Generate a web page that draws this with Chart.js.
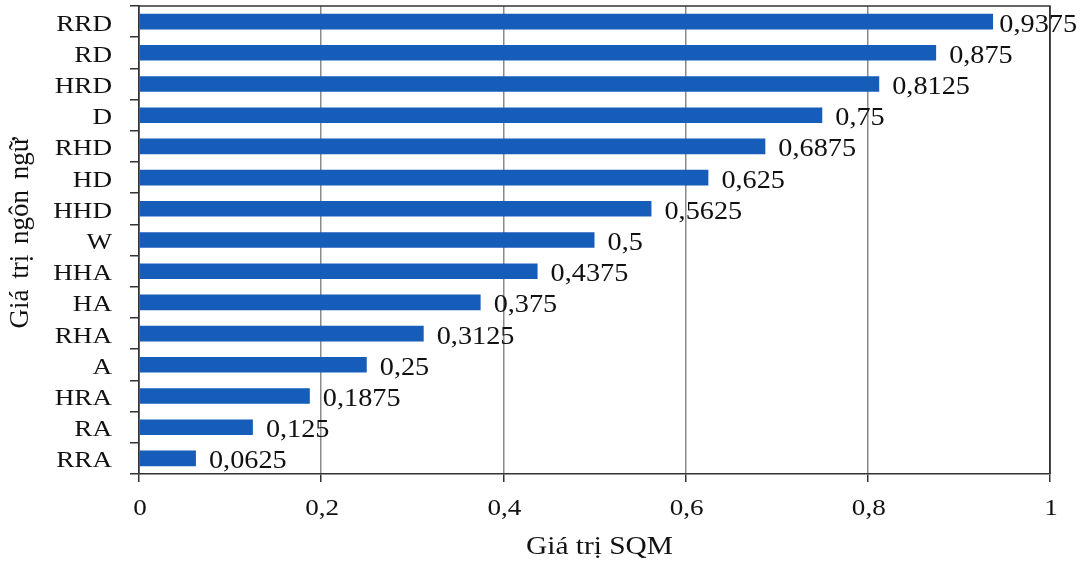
<!DOCTYPE html>
<html>
<head>
<meta charset="utf-8">
<script src="https://cdn.jsdelivr.net/npm/chart.js@4/dist/chart.umd.min.js"></script>
<style>
  html, body { margin: 0; padding: 0; background: #fff; }
  #wrap { width: 1083px; height: 562px; position: relative; }
</style>
</head>
<body>
<div id="wrap"><canvas id="c" width="1083" height="562"></canvas></div>
<script>
// Linguistic values and their SQM values
const categories = ['RRD', 'RD', 'HRD', 'D', 'RHD', 'HD', 'HHD', 'W', 'HHA', 'HA', 'RHA', 'A', 'HRA', 'RA', 'RRA'];
const sqmValues = [0.9375, 0.875, 0.8125, 0.75, 0.6875, 0.625, 0.5625, 0.5, 0.4375, 0.375, 0.3125, 0.25, 0.1875, 0.125, 0.0625];
const xTicks = [0, 0.2, 0.4, 0.6, 0.8, 1];
const xTitle = 'Giá trị SQM';
const yTitle = 'Giá trị ngôn ngữ';

const FONT = "'Liberation Serif', 'Times New Roman', serif";
const TEXT = '#111';
const WIDE = 1.13; // slightly widened serif lettering
const fmt = v => String(v).replace('.', ',');

// Text helper: optional rotation, horizontal widening and word spacing
function drawText(ctx, text, x, y, size, align, opts = {}) {
  ctx.save();
  ctx.font = size + 'px ' + FONT;
  ctx.fillStyle = TEXT;
  ctx.textBaseline = 'alphabetic';
  ctx.textAlign = align;
  if (opts.wordSpacing) ctx.wordSpacing = opts.wordSpacing;
  ctx.translate(x, y);
  if (opts.rotate) ctx.rotate(opts.rotate);
  ctx.scale(opts.sx || 1, opts.sy || 1);
  ctx.fillText(text, 0, 0);
  ctx.restore();
}

const textLayer = {
  id: 'textLayer',
  beforeDatasetsDraw(chart) {
    // top and right sides of the plot frame
    const { ctx, chartArea: a } = chart;
    ctx.save();
    ctx.strokeStyle = '#333';
    ctx.lineWidth = 1.5;
    ctx.beginPath();
    ctx.moveTo(a.left, a.top);
    ctx.lineTo(a.right, a.top);
    ctx.lineTo(a.right, a.bottom);
    ctx.stroke();
    ctx.restore();
  },
  afterDraw(chart) {
    const { ctx, chartArea: a, scales: { x, y } } = chart;
    const meta = chart.getDatasetMeta(0);

    // category labels
    categories.forEach((c, i) => {
      drawText(ctx, c, a.left - 27, y.getPixelForValue(i) + 9, 24, 'right', { sx: WIDE });
    });

    // value tick labels
    xTicks.forEach(v => {
      drawText(ctx, fmt(v), x.getPixelForValue(v) + 1, a.bottom + 41, 24, 'center', { sx: WIDE });
    });

    // bar value labels, kept inside the canvas
    ctx.save();
    ctx.font = '25px ' + FONT;
    meta.data.forEach((bar, i) => {
      const t = fmt(sqmValues[i]);
      const w = ctx.measureText(t).width * WIDE;
      const lx = Math.min(bar.x + 13, chart.width - 6 - w);
      drawText(ctx, t, lx, bar.y + 10, 25, 'left', { sx: WIDE });
    });
    ctx.restore();

    // axis titles
    drawText(ctx, xTitle, (a.left + a.right) / 2 + 5, 554, 26, 'center', { sx: WIDE });
    drawText(ctx, yTitle, 28, (a.top + a.bottom) / 2 - 7, 27, 'center',
      { rotate: -Math.PI / 2, wordSpacing: '4px' });
  }
};

new Chart(document.getElementById('c'), {
  type: 'bar',
  data: {
    labels: categories,
    datasets: [{
      data: sqmValues,
      backgroundColor: '#165DBA',
      borderWidth: 0,
      barPercentage: 0.5,
      categoryPercentage: 1.0
    }]
  },
  options: {
    indexAxis: 'y',
    responsive: false,
    animation: false,
    devicePixelRatio: 1,
    layout: { padding: { top: 6, right: 33, left: 0, bottom: 0 } },
    plugins: { legend: { display: false }, tooltip: { enabled: false } },
    scales: {
      x: {
        min: 0, max: 1,
        afterBuildTicks(scale) { scale.ticks = xTicks.map(v => ({ value: v })); },
        afterFit(scale) {
          scale.height = 88;
          scale.paddingLeft = 0;
          scale.paddingRight = 0;
        },
        border: { color: '#333', width: 1.5 },
        grid: {
          color: ctx => (ctx.tick && (ctx.tick.value === 1 || ctx.tick.value === 0) ? '#333' : '#8a8a8a'),
          lineWidth: 1.5,
          tickLength: 8,
          tickColor: '#333'
        },
        ticks: { display: false }
      },
      y: {
        afterFit(scale) {
          scale.width = 139;
          scale.paddingTop = 0;
          scale.paddingBottom = 0;
        },
        border: { color: '#333', width: 1.5 },
        grid: {
          drawOnChartArea: false,
          offset: true,
          tickLength: 9,
          tickColor: '#333',
          lineWidth: 1.5
        },
        ticks: { display: false, autoSkip: false }
      }
    }
  },
  plugins: [textLayer]
});
</script>
</body>
</html>
